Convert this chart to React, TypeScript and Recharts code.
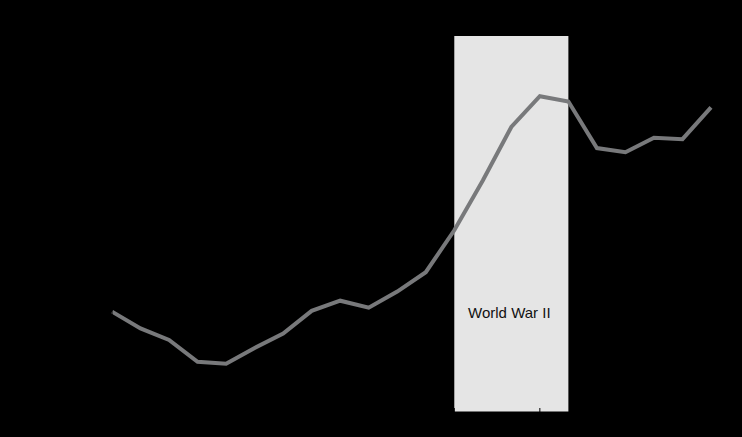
import React from "react"
import { LineChart, Line, XAxis, YAxis, ReferenceArea } from "recharts"

document.body.style.margin = "0"
document.body.style.background = "#000"

const years = [
  1929, 1930, 1931, 1932, 1933, 1934, 1935, 1936, 1937, 1938, 1939,
  1940, 1941, 1942, 1943, 1944, 1945, 1946, 1947, 1948, 1949, 1950,
]
// real GDP, billions of chained 2012 dollars
const gdp = [
  1109.4, 1015.1, 950.0, 827.4, 817.3, 905.6, 986.3, 1113.7, 1170.6, 1131.7, 1222.0,
  1330.3, 1565.9, 1845.0, 2145.3, 2318.1, 2288.4, 2027.1, 2003.4, 2085.5, 2077.1, 2255.0,
]
const xTicks = [1929, 1932, 1935, 1938, 1941, 1944, 1947, 1950]
const yTicks = [1000, 1500, 2000, 2500]
const warStart = 1941
const warEnd = 1945

const data = years.map((year, i) => ({ year, gdp: gdp[i] }))

export default function App() {
  return (
    <div style={{ width: 742, height: 437, background: "#000" }}>
      <LineChart
        width={742}
        height={437}
        data={data}
        margin={{ top: 36, right: 31, left: 52, bottom: 5 }}
      >
        <XAxis
          dataKey="year"
          type="number"
          domain={[1929, 1950]}
          ticks={xTicks}
          stroke="#000"
          tickSize={-4}
          tickMargin={10}
          height={20}
          tick={{ fill: "#000", fontSize: 12, fontFamily: "Liberation Sans, Arial, sans-serif" }}
        />
        <YAxis
          domain={[546, 2656]}
          ticks={yTicks}
          stroke="#000"
          width={60}
          tick={{ fill: "#000", fontSize: 12, fontFamily: "Liberation Sans, Arial, sans-serif" }}
        />
        <ReferenceArea
          x1={warStart}
          x2={warEnd}
          fill="#e5e5e5"
          fillOpacity={1}
          stroke="none"
          label={{
            value: "World War II",
            position: "insideBottom",
            offset: 94,
            dx: -2,
            fill: "#111",
            fontSize: 15,
            fontFamily: "Liberation Sans, Arial, sans-serif",
          }}
        />
        <Line
          type="linear"
          dataKey="gdp"
          stroke="#78797b"
          strokeWidth={4}
          dot={false}
          isAnimationActive={false}
        />
      </LineChart>
    </div>
  )
}
